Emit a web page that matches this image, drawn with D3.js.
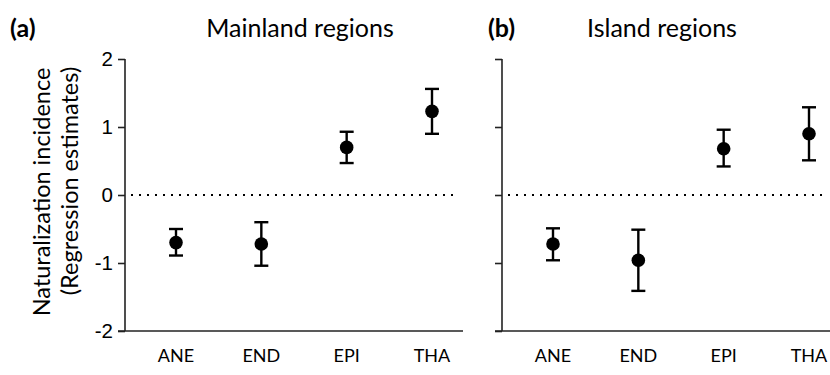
<!DOCTYPE html>
<html>
<head>
<meta charset="utf-8">
<script src="https://cdn.jsdelivr.net/npm/d3@7"></script>
<style>
  body { margin: 0; background: #fff; }
  text { font-family: Lato, "Open Sans", sans-serif; fill: #000; }
  .tick text { font-family: "Liberation Sans", Arial, sans-serif; }
</style>
</head>
<body>
<svg id="chart" width="830" height="375"></svg>
<script>
var categories = ["ANE", "END", "EPI", "THA"];
var yTicks = [-2, -1, 0, 1, 2];

// mainland regions
var mainEst = [-0.70, -0.72, 0.70, 1.23];
var mainLow = [-0.89, -1.04, 0.47, 0.90];
var mainHigh = [-0.50, -0.40, 0.93, 1.56];

// island regions
var islandEst = [-0.72, -0.96, 0.68, 0.90];
var islandLow = [-0.96, -1.41, 0.42, 0.51];
var islandHigh = [-0.49, -0.51, 0.96, 1.29];

var panels = [
  {tag: "(a)", title: "Mainland regions", est: mainEst, low: mainLow, high: mainHigh, left: 125, right: 463, tagX: 10, titleX: 300, labels: true},
  {tag: "(b)", title: "Island regions", est: islandEst, low: islandLow, high: islandHigh, left: 502, right: 830, tagX: 488, titleX: 662, labels: false}
];

var svg = d3.select("#chart");
var plotTop = 59, plotBottom = 331;

var y = d3.scaleLinear()
  .domain([-2, 2])
  .range([plotBottom, plotTop]);

panels.forEach(function (p) {
  var g = svg.append("g");

  var x = d3.scalePoint()
    .domain(categories)
    .range([p.left + 51, p.left + 307]);

  // y axis (plain hyphen for negatives, like the original)
  var yAxis = g.append("g")
    .attr("transform", "translate(" + p.left + ",0)")
    .call(d3.axisLeft(y).tickValues(yTicks).tickSize(7).tickPadding(5)
      .tickFormat(function (d) { return p.labels ? String(d) : ""; }));
  yAxis.select(".domain").remove();
  yAxis.selectAll(".tick line").attr("stroke", "#222").attr("stroke-width", 1.6);
  yAxis.selectAll(".tick text").style("font-size", "20.5px").attr("fill", "#000");

  g.append("line")
    .attr("x1", p.left).attr("x2", p.left)
    .attr("y1", plotTop).attr("y2", plotBottom)
    .attr("stroke", "#222").attr("stroke-width", 1.6);

  // bottom line
  g.append("line")
    .attr("x1", p.left - 7).attr("x2", p.right)
    .attr("y1", plotBottom).attr("y2", plotBottom)
    .attr("stroke", "#222").attr("stroke-width", 1.6);

  // x labels
  g.selectAll(".xlab")
    .data(categories)
    .enter().append("text")
    .attr("class", "xlab")
    .attr("x", function (d) { return x(d); })
    .attr("y", 362)
    .attr("text-anchor", "middle")
    .style("font-size", "18px")
    .text(function (d) { return d; });

  // zero line
  g.append("line")
    .attr("x1", p.left + 6).attr("x2", p.right - 5)
    .attr("y1", y(0)).attr("y2", y(0))
    .attr("stroke", "#000").attr("stroke-width", 2.2)
    .attr("stroke-dasharray", "2,6");

  var rows = categories.map(function (c, i) {
    return {cat: c, est: p.est[i], low: p.low[i], high: p.high[i]};
  });

  // error bars
  g.selectAll(".err")
    .data(rows)
    .enter().append("line")
    .attr("x1", function (d) { return x(d.cat); })
    .attr("x2", function (d) { return x(d.cat); })
    .attr("y1", function (d) { return y(d.low); })
    .attr("y2", function (d) { return y(d.high); })
    .attr("stroke", "#000").attr("stroke-width", 2.4);

  ["low", "high"].forEach(function (k) {
    g.selectAll(".cap-" + k)
      .data(rows)
      .enter().append("line")
      .attr("x1", function (d) { return x(d.cat) - 7; })
      .attr("x2", function (d) { return x(d.cat) + 7; })
      .attr("y1", function (d) { return y(d[k]); })
      .attr("y2", function (d) { return y(d[k]); })
      .attr("stroke", "#000").attr("stroke-width", 2.4);
  });

  g.selectAll(".pt")
    .data(rows)
    .enter().append("circle")
    .attr("cx", function (d) { return x(d.cat); })
    .attr("cy", function (d) { return y(d.est); })
    .attr("r", 6.8)
    .attr("fill", "#000");

  // titles
  g.append("text")
    .attr("x", p.tagX)
    .attr("y", 37)
    .style("font-size", "25px")
    .style("font-weight", "bold")
    .text(p.tag);

  g.append("text")
    .attr("x", p.titleX)
    .attr("y", 37)
    .attr("text-anchor", "middle")
    .style("font-size", "25px")
    .text(p.title);
});

// y axis title
svg.append("text")
  .attr("transform", "translate(50,192) rotate(-90)")
  .attr("text-anchor", "middle")
  .style("font-size", "23.5px")
  .text("Naturalization incidence");

svg.append("text")
  .attr("transform", "translate(78,181) rotate(-90)")
  .attr("text-anchor", "middle")
  .style("font-size", "23.5px")
  .text("(Regression estimates)");
</script>
</body>
</html>
